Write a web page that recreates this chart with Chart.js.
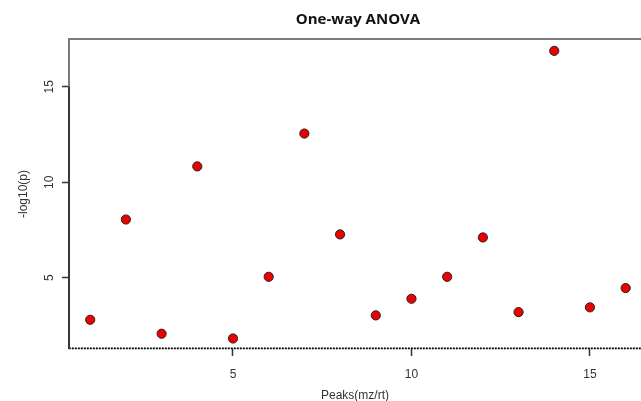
<!DOCTYPE html>
<html>
<head>
<meta charset="utf-8">
<script src="https://cdn.jsdelivr.net/npm/chart.js@4"></script>
<style>
  html, body { margin: 0; padding: 0; background: #fff; }
  #wrap { width: 641px; height: 401px; }
</style>
</head>
<body>
<div id="wrap"><canvas id="c" width="641" height="401"></canvas></div>
<script>
const peaks = [1, 2, 3, 4, 5, 6, 7, 8, 9, 10, 11, 12, 13, 14, 15, 16];
const negLogP = [2.80, 8.05, 2.07, 10.83, 1.82, 5.05, 12.55, 7.27, 3.03, 3.90, 5.05, 7.11, 3.20, 16.88, 3.45, 4.46];
const xTicks = [5, 10, 15];
const yTicks = [5, 10, 15];
const threshold = 1.30;
const titleText = 'One-way ANOVA';
const xTitle = 'Peaks(mz/rt)';
const yTitle = '-log10(p)';

const points = peaks.map((p, i) => ({ x: p, y: negLogP[i] }));

const framePlugin = {
  id: 'frame',
  afterDraw(chart) {
    const { ctx, chartArea: a } = chart;
    ctx.save();
    ctx.strokeStyle = '#7a7a7a';
    ctx.lineWidth = 2;
    ctx.beginPath();
    ctx.moveTo(a.left, a.bottom);
    ctx.lineTo(a.left, a.top);
    ctx.lineTo(a.right + 2, a.top);
    ctx.stroke();
    const y = chart.scales.y;
    ctx.strokeStyle = '#222';
    ctx.lineWidth = 1.5;
    ctx.beginPath();
    ctx.moveTo(a.left, a.bottom);
    ctx.lineTo(a.left, y.getPixelForValue(yTicks[yTicks.length - 1]));
    ctx.stroke();
    ctx.fillStyle = '#111';
    ctx.font = 'bold 15px "Open Sans", "Liberation Sans", sans-serif';
    ctx.textAlign = 'center';
    ctx.textBaseline = 'middle';
    ctx.fillText(titleText, (a.left + a.right) / 2 + 3, 20);
    ctx.restore();
  }
};

function noPad(s) { s.paddingLeft = 0; s.paddingRight = 0; s.paddingTop = 0; s.paddingBottom = 0; }

new Chart(document.getElementById('c'), {
  type: 'scatter',
  data: {
    datasets: [
      {
        type: 'line',
        data: [{ x: 0.4, y: threshold }, { x: 16.6, y: threshold }],
        borderColor: '#000',
        borderWidth: 1.8,
        borderDash: [2, 1],
        pointRadius: 0,
        clip: false,
        order: 2
      },
      {
        data: points,
        backgroundColor: '#ee0000',
        borderColor: '#222',
        borderWidth: 1,
        pointRadius: 4.6,
        order: 1
      }
    ]
  },
  options: {
    responsive: false,
    animation: false,
    devicePixelRatio: 1,
    layout: { autoPadding: false, padding: { top: 39, left: 0, right: 0, bottom: 0 } },
    plugins: { legend: { display: false }, tooltip: { enabled: false }, title: { display: false } },
    scales: {
      x: {
        type: 'linear',
        min: 0.406,
        max: 16.43,
        afterBuildTicks(s) { s.ticks = xTicks.map(v => ({ value: v })); },
        afterFit(s) { s.height = 52; noPad(s); },
        grid: { display: true, drawOnChartArea: false, drawTicks: true, tickLength: 7, tickColor: '#333', tickWidth: 1.5 },
        border: { display: false },
        ticks: { color: '#333', font: { family: '"Liberation Sans", Arial, sans-serif', size: 12 }, padding: 11, maxRotation: 0 },
        title: { display: true, text: xTitle, color: '#333', font: { family: '"Liberation Sans", Arial, sans-serif', size: 12, lineHeight: 1 }, padding: { top: 0, bottom: -1 } }
      },
      y: {
        type: 'linear',
        min: 1.27,
        max: 17.5,
        afterBuildTicks(s) { s.ticks = yTicks.map(v => ({ value: v })); },
        afterFit(s) { s.width = 69; noPad(s); },
        grid: { display: true, drawOnChartArea: false, drawTicks: true, tickLength: 7, tickColor: '#333', tickWidth: 1.5 },
        border: { display: false },
        ticks: { color: '#333', font: { family: '"Liberation Sans", Arial, sans-serif', size: 12 }, padding: 6, minRotation: 90, maxRotation: 90, crossAlign: 'center' },
        title: { display: true, text: yTitle, color: '#333', font: { family: '"Liberation Sans", Arial, sans-serif', size: 12 }, padding: { top: 16, bottom: 0 } }
      }
    }
  },
  plugins: [framePlugin]
});
</script>
</body>
</html>
